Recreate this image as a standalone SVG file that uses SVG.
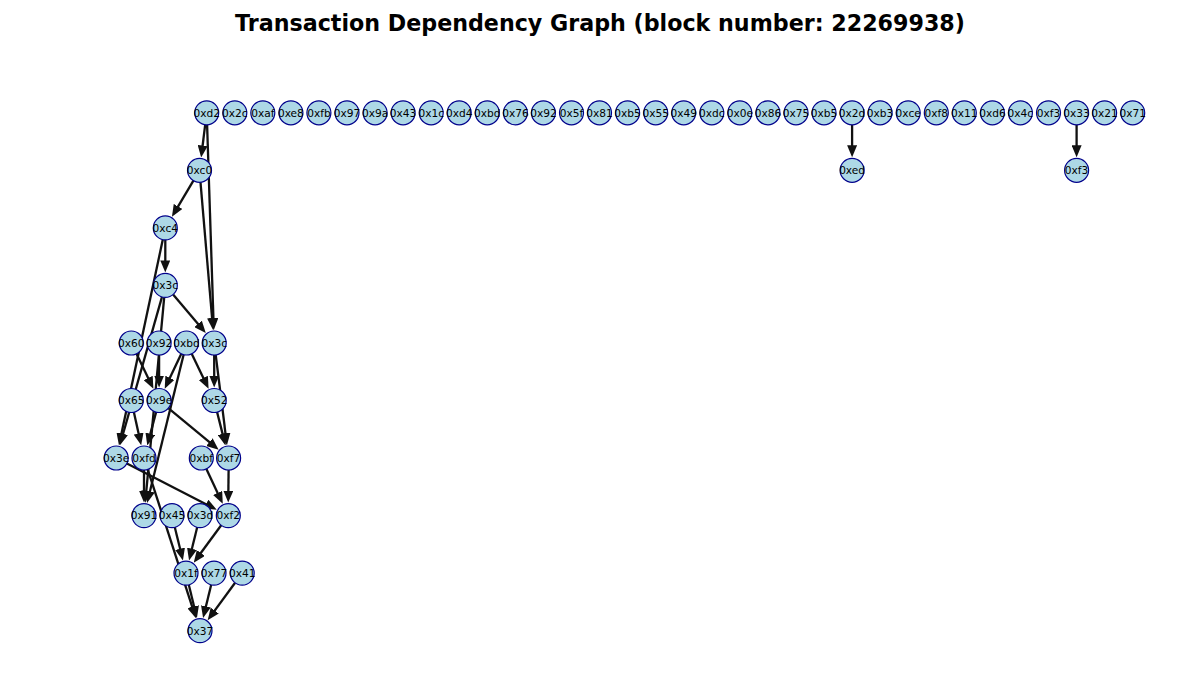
<svg xmlns="http://www.w3.org/2000/svg" width="1200" height="700" viewBox="0 0 1200 700">
<defs>
<marker id="ah" markerUnits="userSpaceOnUse" markerWidth="12" markerHeight="10" viewBox="0 0 12 10" refX="6" refY="5" orient="auto">
<path d="M0,0 L12,5 L0,10 z" fill="#111"/>
</marker>
</defs>
<style>
.title{font-family:"DejaVu Sans","Liberation Sans",sans-serif;font-weight:bold;font-size:22.2px;fill:#000}
.e{stroke:#111;stroke-width:2.3;fill:none;marker-end:url(#ah)}
.n circle{fill:#add8e6;stroke:#00008b;stroke-width:1.2}
.n text{font-family:"DejaVu Sans","Liberation Sans",sans-serif;font-size:10.6px;fill:#000;text-anchor:middle}
</style>
<rect width="1200" height="700" fill="#fff"/>
<text class="title" x="600" y="31" text-anchor="middle">Transaction Dependency Graph (block number: 22269938)</text>
<g id="edges">
<line class="e" x1="205.2" y1="124.7" x2="201.9" y2="151.5"/>
<line class="e" x1="207.1" y1="124.8" x2="213.6" y2="324.0"/>
<line class="e" x1="200.5" y1="182.3" x2="212.6" y2="324.1"/>
<line class="e" x1="193.4" y1="180.6" x2="175.0" y2="211.6"/>
<line class="e" x1="165.3" y1="239.9" x2="165.3" y2="266.4"/>
<line class="e" x1="162.8" y1="239.6" x2="120.2" y2="439.4"/>
<line class="e" x1="162.0" y1="296.9" x2="121.4" y2="439.7"/>
<line class="e" x1="173.1" y1="294.5" x2="201.9" y2="328.5"/>
<line class="e" x1="164.2" y1="297.4" x2="145.8" y2="496.7"/>
<line class="e" x1="136.5" y1="353.8" x2="150.8" y2="383.4"/>
<line class="e" x1="159.1" y1="355.0" x2="159.1" y2="381.5"/>
<line class="e" x1="181.3" y1="353.8" x2="167.3" y2="383.3"/>
<line class="e" x1="191.7" y1="353.8" x2="206.0" y2="383.4"/>
<line class="e" x1="183.6" y1="354.7" x2="148.5" y2="497.2"/>
<line class="e" x1="214.2" y1="355.0" x2="214.2" y2="381.5"/>
<line class="e" x1="215.7" y1="354.9" x2="226.2" y2="439.2"/>
<line class="e" x1="217.1" y1="412.1" x2="224.0" y2="439.6"/>
<line class="e" x1="133.9" y1="412.2" x2="139.9" y2="439.4"/>
<line class="e" x1="156.1" y1="412.1" x2="148.8" y2="439.6"/>
<line class="e" x1="168.3" y1="408.1" x2="214.0" y2="445.9"/>
<line class="e" x1="144.0" y1="470.0" x2="144.0" y2="496.6"/>
<line class="e" x1="126.9" y1="463.5" x2="211.4" y2="506.9"/>
<line class="e" x1="206.4" y1="468.9" x2="220.2" y2="498.4"/>
<line class="e" x1="228.6" y1="470.0" x2="228.3" y2="496.6"/>
<line class="e" x1="147.7" y1="469.4" x2="194.1" y2="612.6"/>
<line class="e" x1="174.8" y1="527.3" x2="181.5" y2="554.6"/>
<line class="e" x1="197.2" y1="527.3" x2="190.5" y2="554.6"/>
<line class="e" x1="221.2" y1="525.3" x2="197.3" y2="557.8"/>
<line class="e" x1="188.8" y1="584.8" x2="195.5" y2="612.2"/>
<line class="e" x1="211.2" y1="584.8" x2="204.5" y2="612.2"/>
<line class="e" x1="235.1" y1="582.8" x2="211.2" y2="615.4"/>
<line class="e" x1="852.1" y1="124.8" x2="852.1" y2="151.3"/>
<line class="e" x1="1076.6" y1="124.8" x2="1076.6" y2="151.3"/>
</g>
<g id="nodes">
<g class="n" id="n_0xd2"><circle cx="206.7" cy="112.8" r="12"/><text x="206.7" y="116.6">0xd2</text></g>
<g class="n" id="n_0x2c"><circle cx="234.8" cy="112.8" r="12"/><text x="234.8" y="116.6">0x2c</text></g>
<g class="n" id="n_0xaf"><circle cx="262.8" cy="112.8" r="12"/><text x="262.8" y="116.6">0xaf</text></g>
<g class="n" id="n_0xe8"><circle cx="290.9" cy="112.8" r="12"/><text x="290.9" y="116.6">0xe8</text></g>
<g class="n" id="n_0xfb"><circle cx="318.9" cy="112.8" r="12"/><text x="318.9" y="116.6">0xfb</text></g>
<g class="n" id="n_0x97"><circle cx="347.0" cy="112.8" r="12"/><text x="347.0" y="116.6">0x97</text></g>
<g class="n" id="n_0x9a"><circle cx="375.1" cy="112.8" r="12"/><text x="375.1" y="116.6">0x9a</text></g>
<g class="n" id="n_0x43"><circle cx="403.1" cy="112.8" r="12"/><text x="403.1" y="116.6">0x43</text></g>
<g class="n" id="n_0x1c"><circle cx="431.2" cy="112.8" r="12"/><text x="431.2" y="116.6">0x1c</text></g>
<g class="n" id="n_0xd4"><circle cx="459.2" cy="112.8" r="12"/><text x="459.2" y="116.6">0xd4</text></g>
<g class="n" id="n_0xbd_a"><circle cx="487.3" cy="112.8" r="12"/><text x="487.3" y="116.6">0xbd</text></g>
<g class="n" id="n_0x76"><circle cx="515.4" cy="112.8" r="12"/><text x="515.4" y="116.6">0x76</text></g>
<g class="n" id="n_0x92_a"><circle cx="543.4" cy="112.8" r="12"/><text x="543.4" y="116.6">0x92</text></g>
<g class="n" id="n_0x5f"><circle cx="571.5" cy="112.8" r="12"/><text x="571.5" y="116.6">0x5f</text></g>
<g class="n" id="n_0x81"><circle cx="599.5" cy="112.8" r="12"/><text x="599.5" y="116.6">0x81</text></g>
<g class="n" id="n_0xb5_a"><circle cx="627.6" cy="112.8" r="12"/><text x="627.6" y="116.6">0xb5</text></g>
<g class="n" id="n_0x55"><circle cx="655.7" cy="112.8" r="12"/><text x="655.7" y="116.6">0x55</text></g>
<g class="n" id="n_0x49"><circle cx="683.7" cy="112.8" r="12"/><text x="683.7" y="116.6">0x49</text></g>
<g class="n" id="n_0xdc"><circle cx="711.8" cy="112.8" r="12"/><text x="711.8" y="116.6">0xdc</text></g>
<g class="n" id="n_0x0e"><circle cx="739.8" cy="112.8" r="12"/><text x="739.8" y="116.6">0x0e</text></g>
<g class="n" id="n_0x86"><circle cx="767.9" cy="112.8" r="12"/><text x="767.9" y="116.6">0x86</text></g>
<g class="n" id="n_0x75"><circle cx="796.0" cy="112.8" r="12"/><text x="796.0" y="116.6">0x75</text></g>
<g class="n" id="n_0xb5_b"><circle cx="824.0" cy="112.8" r="12"/><text x="824.0" y="116.6">0xb5</text></g>
<g class="n" id="n_0x2d"><circle cx="852.1" cy="112.8" r="12"/><text x="852.1" y="116.6">0x2d</text></g>
<g class="n" id="n_0xb3"><circle cx="880.1" cy="112.8" r="12"/><text x="880.1" y="116.6">0xb3</text></g>
<g class="n" id="n_0xce"><circle cx="908.2" cy="112.8" r="12"/><text x="908.2" y="116.6">0xce</text></g>
<g class="n" id="n_0xf8"><circle cx="936.3" cy="112.8" r="12"/><text x="936.3" y="116.6">0xf8</text></g>
<g class="n" id="n_0x11"><circle cx="964.3" cy="112.8" r="12"/><text x="964.3" y="116.6">0x11</text></g>
<g class="n" id="n_0xd6"><circle cx="992.4" cy="112.8" r="12"/><text x="992.4" y="116.6">0xd6</text></g>
<g class="n" id="n_0x4c"><circle cx="1020.4" cy="112.8" r="12"/><text x="1020.4" y="116.6">0x4c</text></g>
<g class="n" id="n_0xf3_a"><circle cx="1048.5" cy="112.8" r="12"/><text x="1048.5" y="116.6">0xf3</text></g>
<g class="n" id="n_0x33"><circle cx="1076.6" cy="112.8" r="12"/><text x="1076.6" y="116.6">0x33</text></g>
<g class="n" id="n_0x21"><circle cx="1104.6" cy="112.8" r="12"/><text x="1104.6" y="116.6">0x21</text></g>
<g class="n" id="n_0x71"><circle cx="1132.7" cy="112.8" r="12"/><text x="1132.7" y="116.6">0x71</text></g>
<g class="n" id="n_0xc0"><circle cx="199.5" cy="170.3" r="12"/><text x="199.5" y="174.1">0xc0</text></g>
<g class="n" id="n_0xed"><circle cx="852.1" cy="170.3" r="12"/><text x="852.1" y="174.1">0xed</text></g>
<g class="n" id="n_0xf3_b"><circle cx="1076.6" cy="170.3" r="12"/><text x="1076.6" y="174.1">0xf3</text></g>
<g class="n" id="n_0xc4"><circle cx="165.3" cy="227.9" r="12"/><text x="165.3" y="231.7">0xc4</text></g>
<g class="n" id="n_0x3c_a"><circle cx="165.3" cy="285.4" r="12"/><text x="165.3" y="289.2">0x3c</text></g>
<g class="n" id="n_0x60"><circle cx="131.3" cy="343.0" r="12"/><text x="131.3" y="346.8">0x60</text></g>
<g class="n" id="n_0x92_b"><circle cx="159.1" cy="343.0" r="12"/><text x="159.1" y="346.8">0x92</text></g>
<g class="n" id="n_0xbd_b"><circle cx="186.5" cy="343.0" r="12"/><text x="186.5" y="346.8">0xbd</text></g>
<g class="n" id="n_0x3c_b"><circle cx="214.2" cy="343.0" r="12"/><text x="214.2" y="346.8">0x3c</text></g>
<g class="n" id="n_0x65"><circle cx="131.3" cy="400.5" r="12"/><text x="131.3" y="404.3">0x65</text></g>
<g class="n" id="n_0x9e"><circle cx="159.1" cy="400.5" r="12"/><text x="159.1" y="404.3">0x9e</text></g>
<g class="n" id="n_0x52"><circle cx="214.2" cy="400.5" r="12"/><text x="214.2" y="404.3">0x52</text></g>
<g class="n" id="n_0x3e"><circle cx="116.2" cy="458.0" r="12"/><text x="116.2" y="461.8">0x3e</text></g>
<g class="n" id="n_0xfd"><circle cx="144.0" cy="458.0" r="12"/><text x="144.0" y="461.8">0xfd</text></g>
<g class="n" id="n_0xbf"><circle cx="201.3" cy="458.0" r="12"/><text x="201.3" y="461.8">0xbf</text></g>
<g class="n" id="n_0xf7"><circle cx="228.6" cy="458.0" r="12"/><text x="228.6" y="461.8">0xf7</text></g>
<g class="n" id="n_0x91"><circle cx="144.0" cy="515.6" r="12"/><text x="144.0" y="519.4">0x91</text></g>
<g class="n" id="n_0x45"><circle cx="172.0" cy="515.6" r="12"/><text x="172.0" y="519.4">0x45</text></g>
<g class="n" id="n_0x3d"><circle cx="200.0" cy="515.6" r="12"/><text x="200.0" y="519.4">0x3d</text></g>
<g class="n" id="n_0xf2"><circle cx="228.3" cy="515.6" r="12"/><text x="228.3" y="519.4">0xf2</text></g>
<g class="n" id="n_0x1f"><circle cx="186.0" cy="573.1" r="12"/><text x="186.0" y="576.9">0x1f</text></g>
<g class="n" id="n_0x77"><circle cx="214.0" cy="573.1" r="12"/><text x="214.0" y="576.9">0x77</text></g>
<g class="n" id="n_0x41"><circle cx="242.2" cy="573.1" r="12"/><text x="242.2" y="576.9">0x41</text></g>
<g class="n" id="n_0x37"><circle cx="200.0" cy="630.7" r="12"/><text x="200.0" y="634.5">0x37</text></g>
</g>
</svg>
